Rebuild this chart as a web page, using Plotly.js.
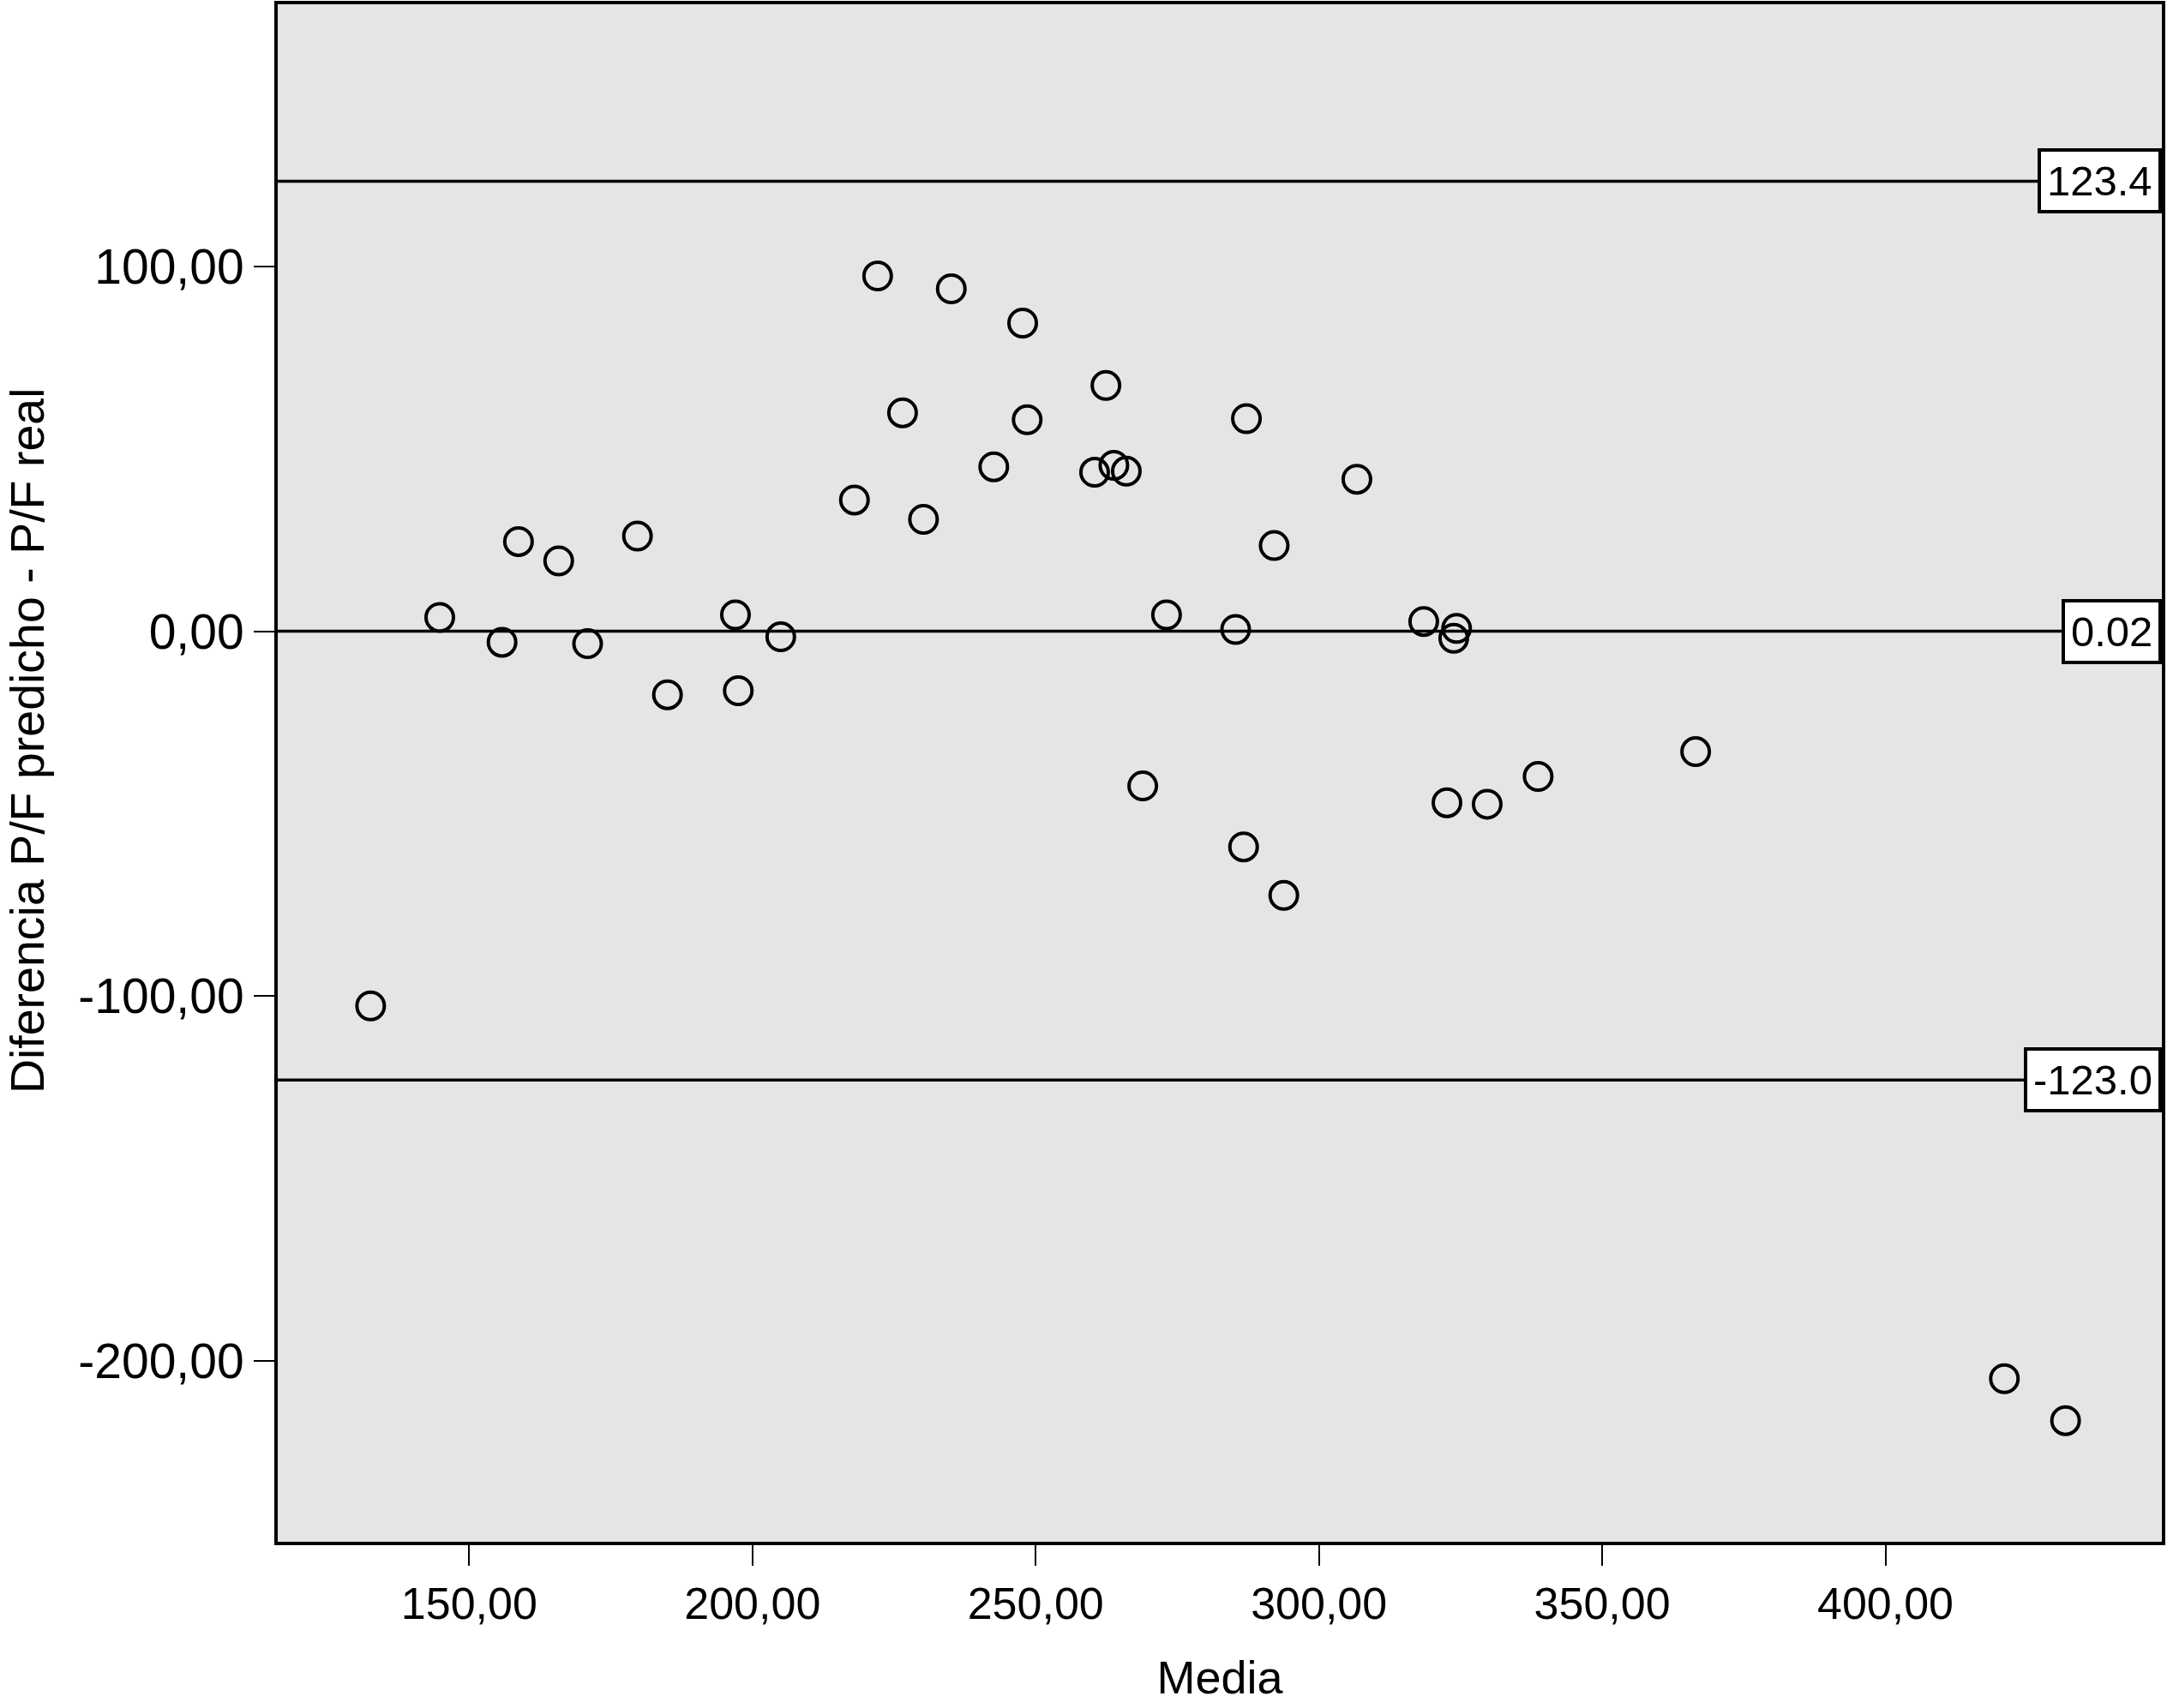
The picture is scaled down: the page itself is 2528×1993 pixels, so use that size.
<!DOCTYPE html>
<html>
<head>
<meta charset="utf-8">
<script src="https://cdn.plot.ly/plotly-3.0.1.min.js"></script>
<style>html,body{margin:0;padding:0;background:#fff;}#chart{width:2528px;height:1993px;}</style>
</head>
<body>
<div id="chart"></div>
<script>
// Bland-Altman data: mean vs difference (P/F predicho - P/F real)
const media = [132.6, 144.8, 155.8, 158.7, 165.8, 170.9, 179.7, 185.0, 197.0, 197.5,
  205.0, 218.0, 222.1, 226.5, 230.2, 235.1, 242.6, 247.7, 248.5, 260.4,
  262.4, 263.8, 266.0, 268.9, 273.1, 285.3, 286.7, 287.2, 292.1, 293.8,
  306.7, 318.5, 322.6, 324.3, 323.8, 329.7, 338.7, 366.5, 421.0, 431.8];
const diferencia = [-102.7, 3.8, -3.0, 24.6, 19.3, -3.4, 26.1, -17.4, 4.5, -16.3,
  -1.5, 36.0, 97.4, 59.9, 30.7, 93.9, 45.1, 84.5, 58.0, 43.6,
  67.4, 45.5, 43.9, -42.4, 4.5, 0.5, -59.1, 58.3, 23.5, -72.4,
  41.7, 2.7, -47.0, 0.8, -1.9, -47.4, -39.8, -33.0, -204.9, -216.4];
const refValues = [123.4, 0.02, -123.0];
const refLabels = ["123.4", "0.02", "-123.0"];
const xTicks = [150, 200, 250, 300, 350, 400];
const xTickText = ["150,00", "200,00", "250,00", "300,00", "350,00", "400,00"];
const yTicks = [100, 0, -100, -200];
const yTickText = ["100,00", "0,00", "-100,00", "-200,00"];
const xTitle = "Media";
const yTitle = "Diferencia P/F predicho - P/F real";

const FONT = "Liberation Sans, Arial, Helvetica, sans-serif";

const trace = {
  type: "scatter",
  mode: "markers",
  x: media,
  y: diferencia,
  marker: {symbol: "circle-open", size: 32, color: "#000", line: {width: 4, color: "#000"}},
  hoverinfo: "x+y",
  showlegend: false
};

const shapes = refValues.map(v => ({
  type: "line", xref: "paper", x0: 0, x1: 1, yref: "y", y0: v, y1: v,
  line: {color: "#000", width: 3.5}
}));

const annotations = refValues.map((v, i) => ({
  xref: "paper", x: 1, xanchor: "right", yref: "y", y: v, yanchor: "middle",
  text: refLabels[i], showarrow: false,
  font: {family: FONT, size: 49, color: "#000"},
  bgcolor: "#fff", bordercolor: "#000", borderwidth: 4, borderpad: 7
}));

// y-axis title placed as rotated text (sits slightly above the plot centre in the original)
annotations.push({
  xref: "paper", x: -0.1325, xanchor: "center",
  yref: "paper", y: 0.521, yanchor: "middle",
  text: yTitle, textangle: -90, showarrow: false,
  font: {family: FONT, size: 55.5, color: "#000"}
});

const layout = {
  width: 2528, height: 1993,
  margin: {l: 324, r: 6, t: 5, b: 194},
  paper_bgcolor: "#fff",
  plot_bgcolor: "#e5e5e5",
  showlegend: false,
  font: {family: FONT, size: 54, color: "#000"},
  xaxis: {
    range: [116.2, 448.8],
    tickvals: xTicks, ticktext: xTickText,
    ticks: "outside", ticklen: 24, tickwidth: 2, tickcolor: "#000",
    showgrid: false, zeroline: false,
    showline: true, mirror: true, linecolor: "#000", linewidth: 4,
    tickfont: {family: FONT, size: 52, color: "#000"},
    title: {text: xTitle, font: {family: FONT, size: 54, color: "#000"}, standoff: 40},
    automargin: false
  },
  yaxis: {
    range: [-249.6, 171.9],
    tickvals: yTicks, ticktext: yTickText,
    ticks: "outside", ticklen: 24, tickwidth: 2, tickcolor: "#000",
    showgrid: false, zeroline: false,
    showline: true, mirror: true, linecolor: "#000", linewidth: 4,
    tickfont: {family: FONT, size: 57, color: "#000"},
    automargin: false
  },
  shapes: shapes,
  annotations: annotations
};

Plotly.newPlot("chart", [trace], layout, {displayModeBar: false, staticPlot: true});
</script>
</body>
</html>
